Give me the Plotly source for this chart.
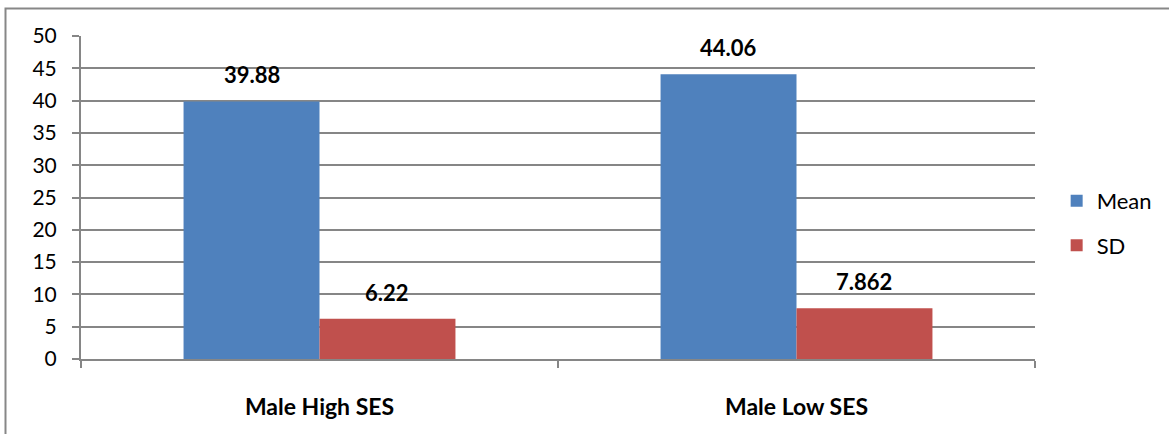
import plotly.graph_objects as go

categories = ["Male High SES", "Male Low SES"]
mean_vals = [39.88, 44.06]
sd_vals = [6.22, 7.862]
mean_labels = ["39.88", "44.06"]
sd_labels = ["6.22", "7.862"]
series_names = ["Mean", "SD"]
y_ticks = [0, 5, 10, 15, 20, 25, 30, 35, 40, 45, 50]

BLUE = "#4F81BD"
RED = "#C0504D"
GRID = "#868686"
FONT = "Lato"

W, H = 1169, 434
L, R, T, B = 81, 134, 36, 75
bargap = 0.43

fig = go.Figure()
fig.add_bar(x=categories, y=mean_vals, name=series_names[0], marker_color=BLUE,
            marker_line_width=0, legendgroup="a")
fig.add_bar(x=categories, y=sd_vals, name=series_names[1], marker_color=RED,
            marker_line_width=0, legendgroup="b")

bw = (1 - bargap) / 2
annotations = []
for i in range(len(categories)):
    for vals, labs, off in ((mean_vals, mean_labels, -bw / 2), (sd_vals, sd_labels, bw / 2)):
        annotations.append(dict(
            x=i + off, y=vals[i], xref="x", yref="y", text=labs[i],
            showarrow=False, yanchor="bottom", xanchor="center", yshift=11,
            font=dict(family=FONT, size=22, color="#000000", weight="bold"),
        ))

pw = W - L - R
ph = H - T - B
fig.add_shape(type="rect", xref="paper", yref="paper",
              x0=(5.5 - L) / pw, x1=1.25, y0=-0.4, y1=(H - B - 8.5) / ph,
              line=dict(color="#878787", width=2), fillcolor="rgba(0,0,0,0)")

fig.update_layout(
    width=W, height=H,
    margin=dict(l=L, r=R, t=T, b=B, pad=0, autoexpand=False),
    paper_bgcolor="white", plot_bgcolor="white",
    barmode="group", bargap=bargap, bargroupgap=0,
    font=dict(family=FONT, size=21, color="#000000"),
    showlegend=True,
    legend=dict(x=1.0227, y=0.42, xanchor="left", yanchor="middle",
                tracegroupgap=13, traceorder="grouped",
                font=dict(family=FONT, size=22, color="#000000"),
                bgcolor="rgba(0,0,0,0)"),
    annotations=annotations,
    xaxis=dict(
        type="category", range=[-0.5, 1.5], showgrid=False,
        showline=True, linecolor=GRID, linewidth=2,
        ticks="outside", tickson="boundaries", ticklen=7, tickcolor=GRID, tickwidth=2,
        tickfont=dict(family=FONT, size=23, color="#000000", weight="bold"),
        ticklabelstandoff=26,
    ),
    yaxis=dict(
        range=[0, 50], tickvals=y_ticks, showgrid=True, gridcolor=GRID, gridwidth=2,
        showline=True, linecolor=GRID, linewidth=2, zeroline=False,
        ticks="outside", ticklen=7, tickcolor=GRID, tickwidth=2,
        tickfont=dict(family=FONT, size=21, color="#000000"),
        ticklabelstandoff=11,
    ),
)

fig.write_html("out.html", config={"displayModeBar": False},
               post_script="document.body.style.margin='0';document.body.style.padding='0';")
